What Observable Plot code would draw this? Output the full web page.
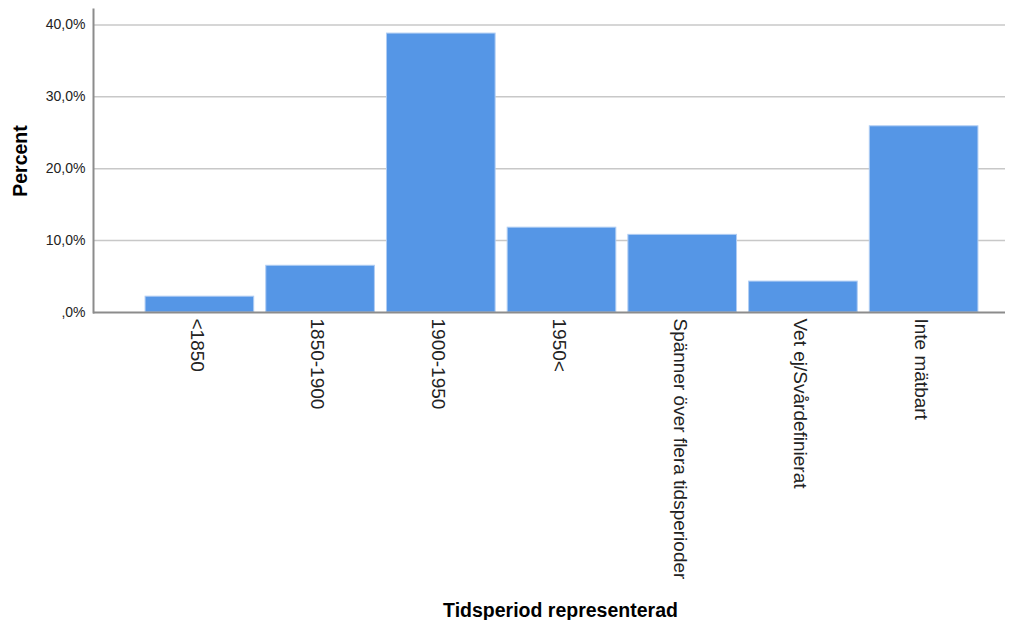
<!DOCTYPE html>
<html>
<head>
<meta charset="utf-8">
<script src="https://cdn.jsdelivr.net/npm/d3@7"></script>
<script src="https://cdn.jsdelivr.net/npm/@observablehq/plot@0.6"></script>
<style>
  html, body { margin: 0; padding: 0; background: #fff; }
  #chart svg { display: block; }
</style>
</head>
<body>
<div id="chart"></div>
<script>
const categories = ["<1850", "1850-1900", "1900-1950", "1950<", "Spänner över flera tidsperioder", "Vet ej/Svårdefinierat", "Inte mätbart"];
const percents = [2.2, 6.5, 38.8, 11.8, 10.8, 4.3, 25.9];
const yTicks = [0, 10, 20, 30, 40];
const yTickLabels = [",0%", "10,0%", "20,0%", "30,0%", "40,0%"];
const xTitle = "Tidsperiod representerad";
const yTitle = "Percent";

const data = categories.map((c, i) => ({category: c, percent: percents[i]}));
const font = "'Liberation Sans', Arial, sans-serif";

const chart = Plot.plot({
  width: 1016,
  height: 620,
  marginLeft: 93,
  marginRight: 11,
  marginTop: 9,
  marginBottom: 308,
  style: {fontFamily: font, background: "#fff"},
  x: {type: "band", domain: categories, padding: 0.1, insetLeft: 40, insetRight: 15, round: false},
  y: {domain: [0, 42.15]},
  marks: [
    Plot.ruleY(yTicks.filter(d => d > 0), {stroke: "#c8c8c8", strokeWidth: 1.5}),
    Plot.barY(data, {x: "category", y: "percent", fill: "#5596e6", stroke: "#b0cdf3", strokeWidth: 1}),
    Plot.ruleY([0], {stroke: "#8c8c8c", strokeWidth: 2}),
    Plot.frame({anchor: "left", stroke: "#8c8c8c", strokeWidth: 2}),
    Plot.axisY({ticks: yTicks, tickFormat: (d) => yTickLabels[yTicks.indexOf(d)], tickSize: 0, tickPadding: 8, fontSize: 14, fill: "#222", label: null}),
    Plot.axisX({tickRotate: 90, tickSize: 0, tickPadding: 6, dx: -3, fontSize: 19, fill: "#222", label: null}),
    Plot.text([yTitle], {frameAnchor: "left", text: d => d, rotate: -90, dx: -73, fontSize: 19.5, fontWeight: "bold", fill: "#000", textAnchor: "middle", lineAnchor: "middle"}),
    Plot.text([xTitle], {frameAnchor: "bottom", text: d => d, dx: 11, dy: 298, fontSize: 19.5, fontWeight: "bold", fill: "#000", textAnchor: "middle", lineAnchor: "middle"})
  ]
});
document.getElementById("chart").append(chart);
</script>
</body>
</html>
